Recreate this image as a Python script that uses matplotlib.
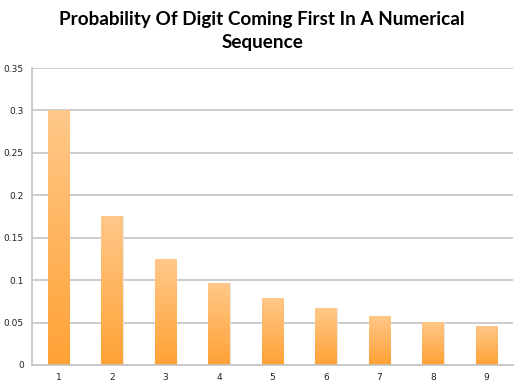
import matplotlib
matplotlib.use("Agg")
import matplotlib.pyplot as plt
import numpy as np
from matplotlib.colors import LinearSegmentedColormap

digits = ["1", "2", "3", "4", "5", "6", "7", "8", "9"]
probs = [0.301, 0.176, 0.125, 0.097, 0.079, 0.067, 0.058, 0.051, 0.046]
yticks = [0, 0.05, 0.1, 0.15, 0.2, 0.25, 0.3, 0.35]
ytick_labels = ["0", "0.05", "0.1", "0.15", "0.2", "0.25", "0.3", "0.35"]

fig = plt.figure(figsize=(5.24, 3.89), dpi=100)
ax = fig.add_axes([32/524, 24/389, 481/524, 297/389])

x = np.arange(len(digits))
bars = ax.bar(x, probs, width=0.4, color="none", edgecolor="none", zorder=3)

cmap = LinearSegmentedColormap.from_list("og", ["#FFA235", "#FFC88A"])
grad = np.linspace(0, 1, 256).reshape(-1, 1)
for b in bars:
    x0, y0 = b.get_x(), b.get_y()
    w, h = b.get_width(), b.get_height()
    # faint shadow on the right side
    ax.bar(x0 + w / 2 + 0.02, h, width=w, bottom=y0, color="#E8E8E8", zorder=2.2)
    im = ax.imshow(grad, cmap=cmap, aspect="auto", origin="lower",
                   extent=[x0, x0 + w, y0, y0 + h], zorder=2.5)
    im.set_clip_path(b)

ax.set_xlim(-0.5, len(digits) - 0.5)
ax.set_ylim(0, 0.35)
ax.set_yticks(yticks)
ax.set_yticklabels(ytick_labels)
ax.set_xticks(x)
ax.set_xticklabels(digits)
ax.tick_params(axis="both", length=0, labelsize=6.5, colors="#222222", pad=6)
ax.yaxis.grid(True, color="#C4C4C4", linewidth=1.2, zorder=0)
ax.set_axisbelow(True)
for s in ["top", "right"]:
    ax.spines[s].set_visible(False)
for s in ["left", "bottom"]:
    ax.spines[s].set_color("#C4C4C4")
    ax.spines[s].set_linewidth(1.2)

fig.text(0.5, 1 - 31/389, "Probability Of Digit Coming First In A Numerical\nSequence",
         ha="center", va="center", fontsize=13.6, fontweight="bold",
         family=["Lato", "DejaVu Sans"], linespacing=1.38)

fig.savefig("out.png", dpi=100)
